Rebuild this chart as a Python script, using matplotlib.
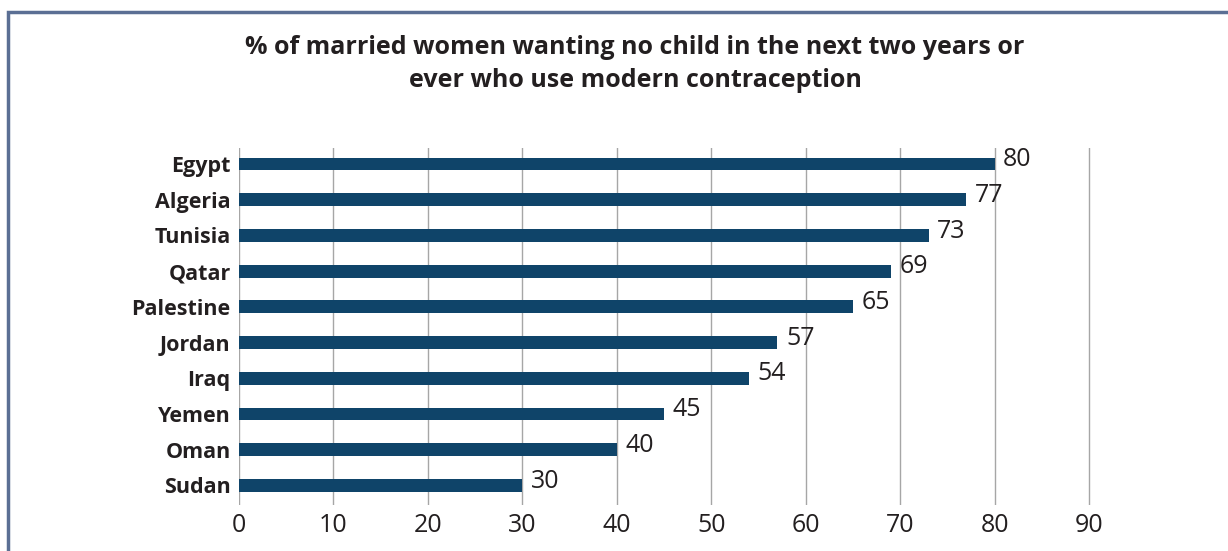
import matplotlib.pyplot as plt
from matplotlib.patches import Rectangle

countries = ['Egypt', 'Algeria', 'Tunisia', 'Qatar', 'Palestine',
             'Jordan', 'Iraq', 'Yemen', 'Oman', 'Sudan']
values = [80, 77, 73, 69, 65, 57, 54, 45, 40, 30]
xticks = [0, 10, 20, 30, 40, 50, 60, 70, 80, 90]
title = '% of married women wanting no child in the next two years or\never who use modern contraception'

plt.rcParams['font.family'] = ['Open Sans', 'DejaVu Sans']

fig = plt.figure(figsize=(12.28, 5.51), dpi=100)
ax = fig.add_axes([239 / 1228, 1 - 505 / 551, 852 / 1228, (505 - 148) / 551])

# outer frame (cut off at right and bottom)
fig.patches.append(Rectangle((8 / 1228, -0.1), 1.1, 1 - 12 / 551 + 0.1,
                             transform=fig.transFigure, fill=False,
                             edgecolor='#5b6f94', linewidth=2.5))

pos = list(range(len(countries)))[::-1]
ax.barh(pos, values, height=0.36, color='#0f4469', zorder=3)
for p, v in zip(pos, values):
    ax.text(v + 0.9, p + 0.12, str(v), va='center', ha='left',
            fontsize=18, color='#231f20')

ax.set_xlim(0, 90.2)
ax.set_ylim(-0.55, 9.45)
ax.set_xticks(xticks)
ax.set_xticklabels([str(t) for t in xticks], fontsize=18, color='#231f20')
ax.set_yticks(pos)
ax.set_yticklabels(countries, fontsize=15.5, fontweight='bold', color='#231f20')
ax.tick_params(length=0, pad=6)
ax.tick_params(axis='y', pad=6)
ax.grid(axis='x', color='#a6a6a6', linewidth=1)
ax.set_axisbelow(True)
for s in ax.spines.values():
    s.set_visible(False)

fig.text(635 / 1228, 1 - 64 / 551, title, ha='center', va='center',
         fontsize=18, fontweight='bold', color='#231f20', linespacing=1.4)

fig.savefig('out.png', dpi=100)
